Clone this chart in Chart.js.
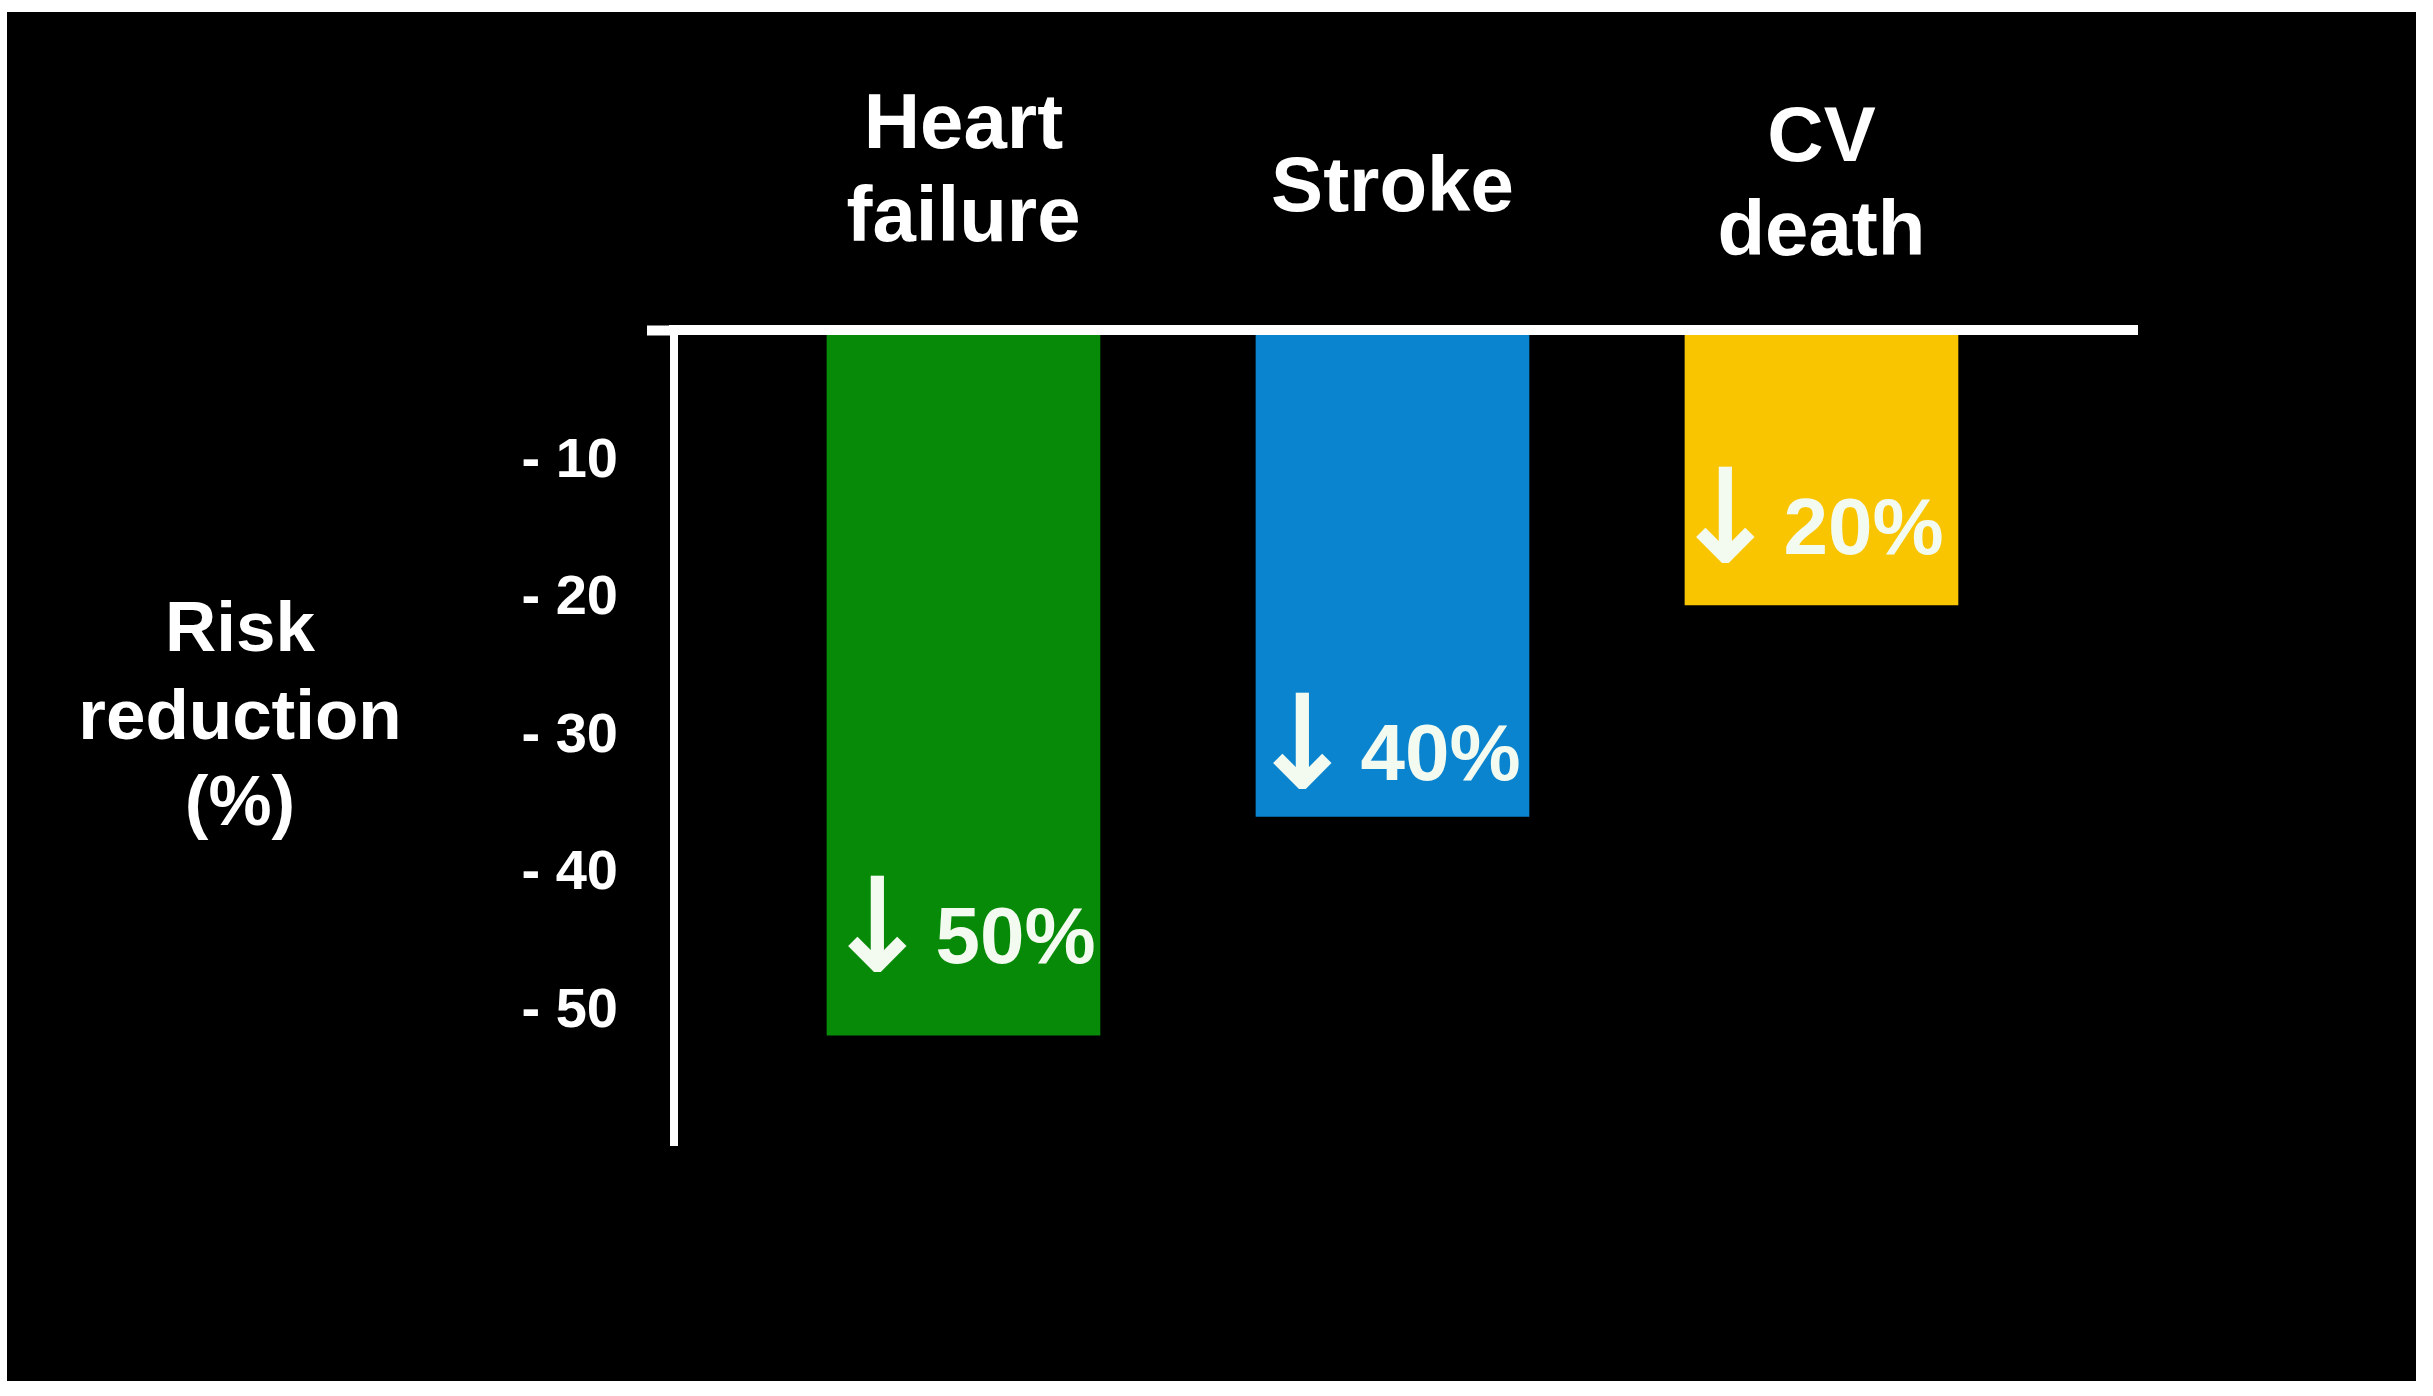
<!DOCTYPE html>
<html>
<head>
<meta charset="utf-8">
<script src="https://cdn.jsdelivr.net/npm/chart.js@4/dist/chart.umd.min.js"></script>
<style>
html,body{margin:0;padding:0;background:#fff;overflow:hidden}
#wrap{position:relative;width:2433px;height:1396px}
canvas{display:block}
</style>
</head>
<body>
<div id="wrap"><canvas id="c" width="2433" height="1396"></canvas></div>
<script>
// ---- data ----
const categories = [['Heart', 'failure'], ['Stroke'], ['CV', 'death']];
const riskChange = [-51.3, -35.4, -20.0];
const reductionLabels = ['50%', '40%', '20%'];
const barColors = ['#078a07', '#0a84cf', '#f9c500'];
const yTickValues = [0, -10, -20, -30, -40, -50];
const yTitleLines = ['Risk', 'reduction', '(%)'];

const FONT = '"Liberation Sans", Arial, Helvetica, sans-serif';
const ARROW_FONT = '"DejaVu Sans", "Liberation Sans", sans-serif';
const X_MIN = -0.6748, X_MAX = 2.7355;
const Y_MIN = -59.3, Y_MAX = 0;

const slideDecor = {
  id: 'slideDecor',
  beforeDraw(chart) {
    const { ctx, width, height } = chart;
    ctx.save();
    ctx.fillStyle = '#ffffff';
    ctx.fillRect(0, 0, width, height);
    ctx.fillStyle = '#000000';
    ctx.fillRect(7, 12, 2409, 1369);
    ctx.restore();
  },
  afterDatasetsDraw(chart, args, opts) {
    const ctx = chart.ctx;
    const meta = chart.getDatasetMeta(0);
    ctx.save();
    meta.data.forEach((bar, i) => {
      const cy = bar.y - opts.raise[i];
      const left = bar.x + opts.shift[i] - 117;
      ctx.fillStyle = opts.labelColor;
      ctx.strokeStyle = opts.labelColor;
      ctx.textBaseline = 'middle';
      ctx.textAlign = 'center';
      ctx.font = '128px ' + ARROW_FONT;
      ctx.lineWidth = 2.5;
      ctx.fillText('\u2193', left + 24, cy - 4);
      ctx.strokeText('\u2193', left + 24, cy - 4);
      ctx.textAlign = 'left';
      ctx.font = 'bold 80px ' + FONT;
      ctx.fillText(reductionLabels[i], left + 82, cy);
    });
    ctx.restore();
  },
  afterDraw(chart, args, opts) {
    const ctx = chart.ctx;
    const xs = chart.scales.x;
    const top = chart.chartArea.top;
    const left = chart.chartArea.left;
    ctx.save();
    ctx.fillStyle = '#ffffff';
    ctx.textAlign = 'center';
    ctx.textBaseline = 'alphabetic';
    ctx.font = 'bold 78px ' + FONT;
    categories.forEach((lines, i) => {
      const x = xs.getPixelForValue(i);
      lines.forEach((t, j) => {
        ctx.fillText(t, x, top + opts.catBaselines[i][j]);
      });
    });
    ctx.font = 'bold 71px ' + FONT;
    yTitleLines.forEach((t, j) => {
      ctx.fillText(t, left - 434, top + opts.titleBaselines[j]);
    });
    ctx.restore();
  }
};

new Chart(document.getElementById('c'), {
  type: 'bar',
  data: {
    datasets: [{
      data: riskChange.map((v, i) => ({ x: i, y: v })),
      backgroundColor: barColors,
      borderWidth: 0,
      barThickness: 273
    }]
  },
  options: {
    responsive: false,
    animation: false,
    devicePixelRatio: 1,
    layout: { padding: { left: 0, top: 0, right: 296, bottom: 251 } },
    plugins: {
      legend: { display: false },
      tooltip: { enabled: false },
      slideDecor: {
        raise: [94, 59, 73],
        shift: [7, 3, -3],
        labelColor: '#f3faef',
        catBaselines: [[-182, -89], [-119], [-169, -75]],
        titleBaselines: [321, 409, 495]
      }
    },
    scales: {
      x: {
        type: 'linear',
        position: 'top',
        offset: false,
        bounds: 'data',
        min: X_MIN,
        max: X_MAX,
        afterBuildTicks: s => { s.min = X_MIN; s.max = X_MAX; },
        afterFit: s => { s.height = 330; },
        grid: { display: false, offset: false },
        ticks: { display: false },
        border: { display: true, color: '#ffffff', width: 10, z: 1 }
      },
      y: {
        type: 'linear',
        position: 'left',
        min: Y_MIN,
        max: Y_MAX,
        afterBuildTicks: s => {
          s.ticks = yTickValues.map(v => ({ value: v }));
          s.min = Y_MIN; s.max = Y_MAX;
        },
        afterFit: s => { s.width = 674; },
        border: { display: true, color: '#ffffff', width: 8, z: 1 },
        grid: {
          drawOnChartArea: false,
          drawTicks: true,
          tickLength: 27,
          tickWidth: 10,
          color: c => (c.tick && c.tick.value === 0) ? '#ffffff' : 'rgba(0,0,0,0)',
          tickColor: c => (c.tick && c.tick.value === 0) ? '#ffffff' : 'rgba(0,0,0,0)'
        },
        ticks: {
          color: '#ffffff',
          font: { family: FONT, size: 56, weight: 'bold' },
          padding: 29,
          labelOffset: -6,
          callback: v => v === 0 ? '' : '- ' + Math.abs(v)
        }
      }
    }
  },
  plugins: [slideDecor]
});
</script>
</body>
</html>
